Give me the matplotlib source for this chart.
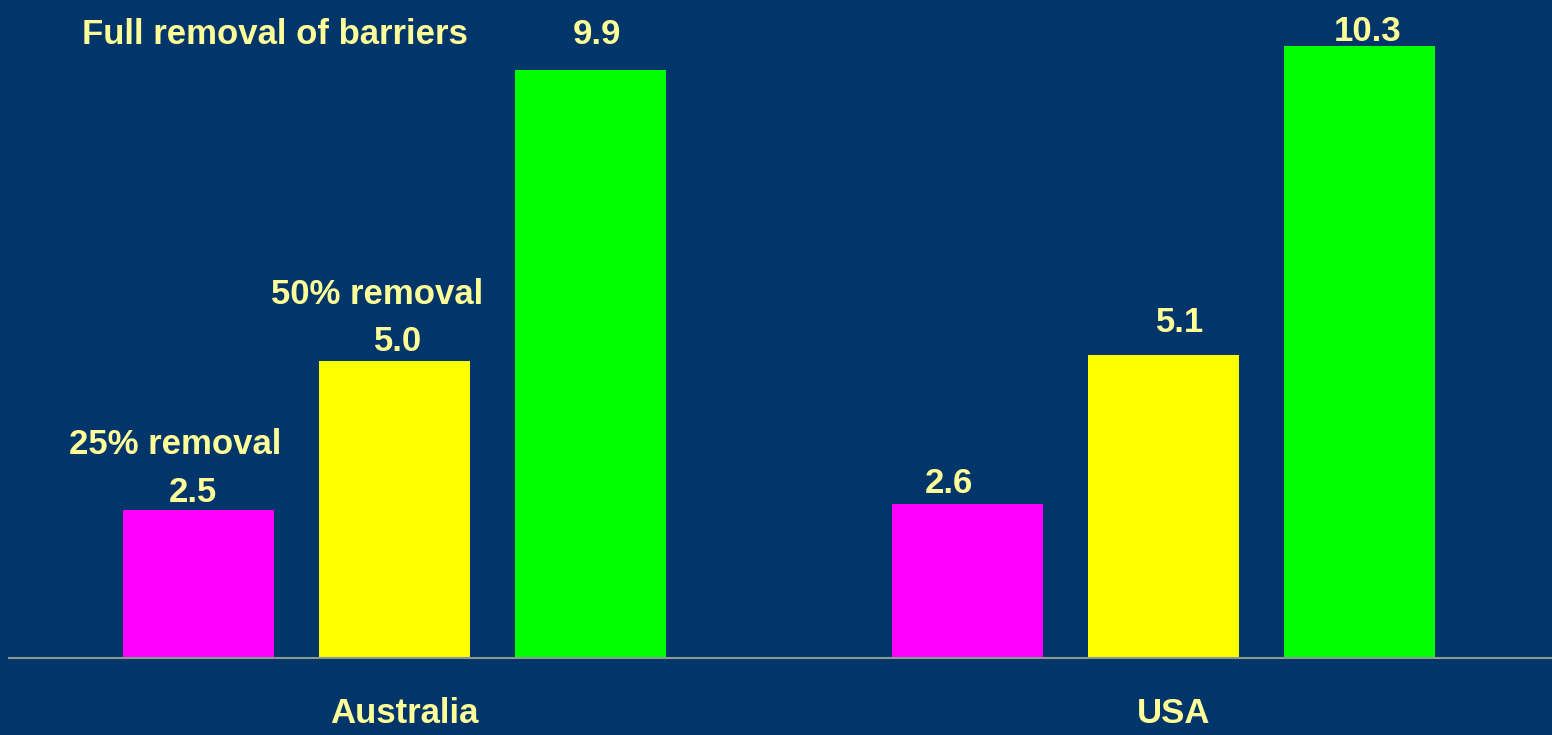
import matplotlib.pyplot as plt
import numpy as np

# --- Data ---
countries = ["Australia", "USA"]
scenarios = ["25% removal", "50% removal", "Full removal of barriers"]
australia_vals = [2.5, 5.0, 9.9]
usa_vals = [2.6, 5.1, 10.3]
bar_colors = ["#FF00FF", "#FFFF00", "#00FF00"]

# label offsets (pixels from bar top centre), hand-tuned like the slide
value_offsets = [[(-6, 8), (3, 10), (6, 26)],
                 [(-19, 11), (16, 23), (8, 5)]]
scenario_offsets = [(-24, 56), (-18, 57), (-316, 26)]

bg = "#02366A"
txt = "#FFFF99"
plt.rcParams['font.family'] = ['Liberation Sans', 'DejaVu Sans']

fig = plt.figure(figsize=(15.52, 7.35), dpi=100, facecolor=bg)
ax = fig.add_axes([9 / 1552, 77 / 735, 1 - 9 / 1552, 658 / 735])
ax.set_facecolor(bg)

group_gap = 3.923
bar_width = 0.77
x = np.arange(3)
group_x = [x, x + group_gap]
values = [australia_vals, usa_vals]

for gx, vals, offs in zip(group_x, values, value_offsets):
    ax.bar(gx, vals, width=bar_width, color=bar_colors, zorder=2)
    for xi, v, off in zip(gx, vals, offs):
        ax.annotate(f"{v:.1f}", xy=(xi, v), xytext=off, textcoords='offset pixels',
                    ha='center', va='baseline', color=txt, fontsize=25, fontweight='bold')

# series labels sit above the Australia bars
for xi, v, s, off in zip(group_x[0], australia_vals, scenarios, scenario_offsets):
    ax.annotate(s, xy=(xi, v), xytext=off, textcoords='offset pixels',
                ha='center', va='baseline', color=txt, fontsize=25, fontweight='bold')

ax.set_xlim(-0.969, 6.903)
ax.set_ylim(0, 11.08)
ax.set_xticks([1.05, 1.05 + group_gap])
ax.set_xticklabels(countries, color=txt, fontsize=25, fontweight='bold')
ax.tick_params(axis='x', length=0, pad=28)
ax.set_yticks([])
for side in ['top', 'right', 'left']:
    ax.spines[side].set_visible(False)
ax.spines['bottom'].set_color('#8C9C8C')
ax.spines['bottom'].set_linewidth(1.5)

plt.savefig("out.png", dpi=100, facecolor=bg)
